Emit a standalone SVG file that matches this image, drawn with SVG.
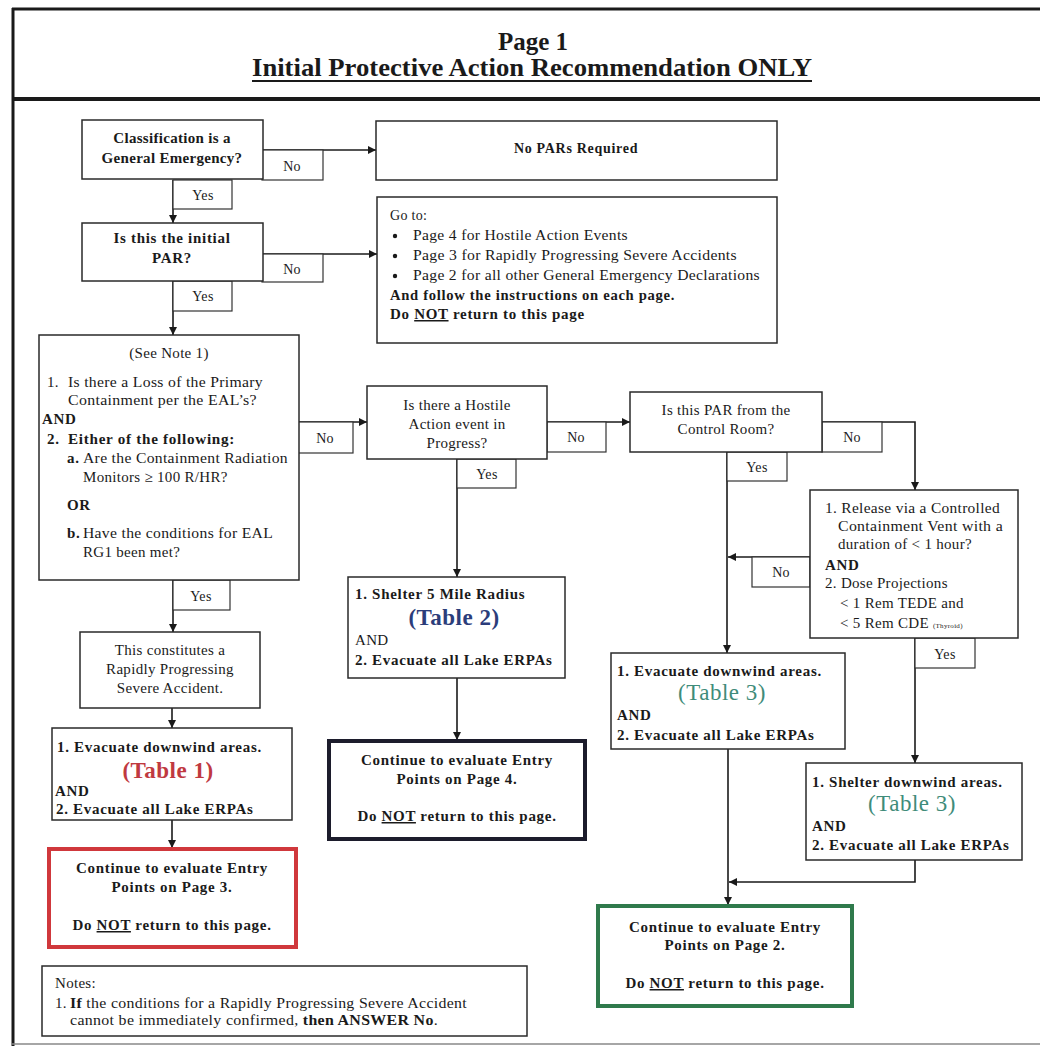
<svg xmlns="http://www.w3.org/2000/svg" width="1040" height="1046" viewBox="0 0 1040 1046">
<defs>
<style>
.t{font-family:"Liberation Serif","Times New Roman",serif;font-size:15px;fill:#1a1a1a;letter-spacing:0.3px}
.b{font-weight:bold;letter-spacing:0.7px}
.c{text-anchor:middle}
.box{fill:#fff;stroke:#2a2a2a;stroke-width:1.5}
.lbl{fill:#fff;stroke:#333;stroke-width:1.2}
.edge{fill:none;stroke:#1a1a1a;stroke-width:1.6}
.u{text-decoration:underline}
.t1{fill:#c0393f;font-size:23px;font-weight:bold;letter-spacing:0.5px}
.t2{fill:#2b3d7a;font-size:23px;font-weight:bold;letter-spacing:0.5px}
.t3{fill:#3f8c7a;font-size:23px;letter-spacing:0.5px}
</style>
<marker id="ah" viewBox="0 0 10 10" refX="10" refY="5" markerWidth="9" markerHeight="8" markerUnits="userSpaceOnUse" orient="auto">
<path d="M0,0 L10,5 L0,10 z" fill="#1a1a1a"/>
</marker>
</defs>
<rect x="0" y="0" width="1040" height="1046" fill="#fff"/>

<g id="frame">
<line x1="12" y1="9" x2="1040" y2="9" stroke="#1a1a1a" stroke-width="3"/>
<line x1="13" y1="8" x2="13" y2="1046" stroke="#1a1a1a" stroke-width="3"/>
<line x1="12" y1="99" x2="1040" y2="99" stroke="#1a1a1a" stroke-width="4"/>
<line x1="12" y1="1044" x2="1040" y2="1044" stroke="#888" stroke-width="1.5"/>
<text class="t b c" x="533" y="50" style="font-size:25px;letter-spacing:0">Page 1</text>
<text class="t b" x="252" y="76" style="font-size:25px;letter-spacing:0" textLength="560" lengthAdjust="spacingAndGlyphs">Initial Protective Action Recommendation ONLY</text>
<line x1="252" y1="81" x2="812" y2="81" stroke="#1a1a1a" stroke-width="2"/>
</g>

<g id="connectors">
<path class="edge" d="M262,150 H376" marker-end="url(#ah)"/>
<rect class="lbl" x="262" y="150" width="61" height="30"/>
<text class="t c" x="292" y="171" style="font-size:14px">No</text>

<path class="edge" d="M173,180 V223" marker-end="url(#ah)"/>
<rect class="lbl" x="173" y="180" width="59" height="29"/>
<text class="t c" x="203" y="200" style="font-size:14px">Yes</text>

<path class="edge" d="M262,254 H377" marker-end="url(#ah)"/>
<rect class="lbl" x="262" y="254" width="61" height="28"/>
<text class="t c" x="292" y="274" style="font-size:14px">No</text>

<path class="edge" d="M173,281 V335" marker-end="url(#ah)"/>
<rect class="lbl" x="173" y="281" width="59" height="30"/>
<text class="t c" x="203" y="301" style="font-size:14px">Yes</text>

<path class="edge" d="M298,422 H367" marker-end="url(#ah)"/>
<rect class="lbl" x="298" y="422" width="55" height="31"/>
<text class="t c" x="325" y="443" style="font-size:14px">No</text>

<path class="edge" d="M547,422 H630" marker-end="url(#ah)"/>
<rect class="lbl" x="547" y="422" width="59" height="30"/>
<text class="t c" x="576" y="442" style="font-size:14px">No</text>

<path class="edge" d="M822,422 H915 V490" marker-end="url(#ah)"/>
<rect class="lbl" x="822" y="422" width="60" height="30"/>
<text class="t c" x="852" y="442" style="font-size:14px">No</text>

<path class="edge" d="M457,459 V577" marker-end="url(#ah)"/>
<rect class="lbl" x="457" y="459" width="59" height="29"/>
<text class="t c" x="487" y="479" style="font-size:14px">Yes</text>

<path class="edge" d="M727,452 V653" marker-end="url(#ah)"/>
<rect class="lbl" x="727" y="452" width="60" height="29"/>
<text class="t c" x="757" y="472" style="font-size:14px">Yes</text>

<path class="edge" d="M810,557 H728" marker-end="url(#ah)"/>
<rect class="lbl" x="752" y="557" width="58" height="30"/>
<text class="t c" x="781" y="577" style="font-size:14px">No</text>

<path class="edge" d="M915,638 V763" marker-end="url(#ah)"/>
<rect class="lbl" x="915" y="638" width="60" height="30"/>
<text class="t c" x="945" y="659" style="font-size:14px">Yes</text>

<path class="edge" d="M173,580 V632" marker-end="url(#ah)"/>
<rect class="lbl" x="173" y="580" width="57" height="30"/>
<text class="t c" x="201" y="601" style="font-size:14px">Yes</text>

<path class="edge" d="M172,708 V728" marker-end="url(#ah)"/>
<path class="edge" d="M172,820 V848" marker-end="url(#ah)"/>
<path class="edge" d="M457,678 V740" marker-end="url(#ah)"/>
<path class="edge" d="M728,749 V905" marker-end="url(#ah)"/>
<path class="edge" d="M915,860 V882 H729" marker-end="url(#ah)"/>
</g>

<g id="n_classification">
<rect class="box" x="82" y="120" width="181" height="59"/>
<text class="t b c" x="172" y="143" style="letter-spacing:0.3px">Classification is a</text>
<text class="t b c" x="172" y="163" style="letter-spacing:0.3px">General Emergency?</text>
</g>

<g id="n_nopars">
<rect class="box" x="376" y="121" width="401" height="59"/>
<text class="t b c" x="576" y="153" style="font-size:14px">No PARs Required</text>
</g>

<g id="n_initialpar">
<rect class="box" x="82" y="223" width="181" height="58"/>
<text class="t b c" x="172" y="243">Is this the initial</text>
<text class="t b c" x="172" y="263">PAR?</text>
</g>

<g id="n_goto">
<rect class="box" x="377" y="197" width="400" height="146"/>
<text class="t" x="390" y="220" style="font-size:14px">Go to:</text>
<circle cx="395" cy="236" r="2.2" fill="#1a1a1a"/>
<circle cx="395" cy="256" r="2.2" fill="#1a1a1a"/>
<circle cx="395" cy="276" r="2.2" fill="#1a1a1a"/>
<text class="t" x="413" y="240" textLength="215" lengthAdjust="spacingAndGlyphs">Page 4 for Hostile Action Events</text>
<text class="t" x="413" y="260" textLength="324" lengthAdjust="spacingAndGlyphs">Page 3 for Rapidly Progressing Severe Accidents</text>
<text class="t" x="413" y="280" textLength="347" lengthAdjust="spacingAndGlyphs">Page 2 for all other General Emergency Declarations</text>
<text class="t b" x="390" y="300" textLength="285" lengthAdjust="spacingAndGlyphs">And follow the instructions on each page.</text>
<text class="t b" x="390" y="319">Do <tspan class="u">NOT</tspan> return to this page</text>
</g>

<g id="n_seenote">
<rect class="box" x="39" y="335" width="260" height="245"/>
<text class="t c" x="169" y="358">(See Note 1)</text>
<text class="t" x="47" y="387">1.</text>
<text class="t" x="68" y="387" textLength="195" lengthAdjust="spacingAndGlyphs">Is there a Loss of the Primary</text>
<text class="t" x="68" y="405" textLength="189" lengthAdjust="spacingAndGlyphs">Containment per the EAL’s?</text>
<text class="t b" x="42" y="424">AND</text>
<text class="t b" x="47" y="444">2.</text>
<text class="t b" x="68" y="444" textLength="167" lengthAdjust="spacingAndGlyphs">Either of the following:</text>
<text class="t b" x="67" y="463">a.</text>
<text class="t" x="83" y="463" textLength="205" lengthAdjust="spacingAndGlyphs">Are the Containment Radiation</text>
<text class="t" x="83" y="482">Monitors ≥ 100 R/HR?</text>
<text class="t b" x="67" y="510">OR</text>
<text class="t b" x="67" y="538">b.</text>
<text class="t" x="83" y="538" textLength="190" lengthAdjust="spacingAndGlyphs">Have the conditions for EAL</text>
<text class="t" x="83" y="557">RG1 been met?</text>
</g>

<g id="n_hostile">
<rect class="box" x="367" y="386" width="180" height="73"/>
<text class="t c" x="457" y="410">Is there a Hostile</text>
<text class="t c" x="457" y="429">Action event in</text>
<text class="t c" x="457" y="448">Progress?</text>
</g>

<g id="n_controlroom">
<rect class="box" x="630" y="392" width="192" height="60"/>
<text class="t c" x="726" y="415">Is this PAR from the</text>
<text class="t c" x="726" y="434">Control Room?</text>
</g>

<g id="n_release">
<rect class="box" x="810" y="490" width="208" height="148"/>
<text class="t" x="825" y="513" textLength="175" lengthAdjust="spacingAndGlyphs">1. Release via a Controlled</text>
<text class="t" x="838" y="531" textLength="165" lengthAdjust="spacingAndGlyphs">Containment Vent with a</text>
<text class="t" x="838" y="549">duration of &lt; 1 hour?</text>
<text class="t b" x="825" y="570">AND</text>
<text class="t" x="825" y="588">2. Dose Projections</text>
<text class="t" x="840" y="608">&lt; 1 Rem TEDE and</text>
<text class="t" x="840" y="628">&lt; 5 Rem CDE <tspan style="font-size:7px">(Thyroid)</tspan></text>
</g>

<g id="n_shelter5">
<rect class="box" x="348" y="577" width="217" height="101"/>
<text class="t b" x="355" y="599">1. Shelter 5 Mile Radius</text>
<text class="t t2 c" x="454" y="625">(Table 2)</text>
<text class="t" x="355" y="645">AND</text>
<text class="t b" x="355" y="665">2. Evacuate all Lake ERPAs</text>
</g>

<g id="n_page4">
<rect x="329" y="741" width="256" height="98" fill="#fff" stroke="#1c1c2c" stroke-width="4"/>
<text class="t b c" x="457" y="765">Continue to evaluate Entry</text>
<text class="t b c" x="457" y="784">Points on Page 4.</text>
<text class="t b c" x="457" y="821">Do <tspan class="u">NOT</tspan> return to this page.</text>
</g>

<g id="n_rpsa">
<rect class="box" x="80" y="632" width="180" height="76"/>
<text class="t c" x="170" y="655">This constitutes a</text>
<text class="t c" x="170" y="674">Rapidly Progressing</text>
<text class="t c" x="170" y="693">Severe Accident.</text>
</g>

<g id="n_evac1">
<rect class="box" x="52" y="728" width="240" height="92"/>
<text class="t b" x="57" y="752">1. Evacuate downwind areas.</text>
<text class="t t1 c" x="168" y="778">(Table 1)</text>
<text class="t b" x="55" y="796">AND</text>
<text class="t b" x="56" y="814">2. Evacuate all Lake ERPAs</text>
</g>

<g id="n_page3">
<rect x="49" y="849" width="247" height="98" fill="#fff" stroke="#d0383c" stroke-width="4"/>
<text class="t b c" x="172" y="873">Continue to evaluate Entry</text>
<text class="t b c" x="172" y="892">Points on Page 3.</text>
<text class="t b c" x="172" y="930">Do <tspan class="u">NOT</tspan> return to this page.</text>
</g>

<g id="n_evac3">
<rect class="box" x="611" y="653" width="234" height="96"/>
<text class="t b" x="617" y="676">1. Evacuate downwind areas.</text>
<text class="t t3 c" x="722" y="700">(Table 3)</text>
<text class="t b" x="617" y="720">AND</text>
<text class="t b" x="617" y="740">2. Evacuate all Lake ERPAs</text>
</g>

<g id="n_shelterdw">
<rect class="box" x="806" y="763" width="216" height="97"/>
<text class="t b" x="812" y="787">1. Shelter downwind areas.</text>
<text class="t t3 c" x="912" y="811">(Table 3)</text>
<text class="t b" x="812" y="831">AND</text>
<text class="t b" x="812" y="850">2. Evacuate all Lake ERPAs</text>
</g>

<g id="n_page2">
<rect x="598" y="906" width="254" height="100" fill="#fff" stroke="#2f7a4c" stroke-width="4"/>
<text class="t b c" x="725" y="932">Continue to evaluate Entry</text>
<text class="t b c" x="725" y="950">Points on Page 2.</text>
<text class="t b c" x="725" y="988">Do <tspan class="u">NOT</tspan> return to this page.</text>
</g>

<g id="n_notes">
<rect class="box" x="42" y="966" width="485" height="70"/>
<text class="t" x="55" y="988">Notes:</text>
<text class="t" x="55" y="1008">1.</text>
<text class="t" x="70" y="1008" textLength="397" lengthAdjust="spacingAndGlyphs"><tspan class="b" style="letter-spacing:0.3px">If</tspan> the conditions for a Rapidly Progressing Severe Accident</text>
<text class="t" x="70" y="1025" textLength="368" lengthAdjust="spacingAndGlyphs">cannot be immediately confirmed, <tspan class="b" style="letter-spacing:0.3px">then ANSWER No</tspan>.</text>
</g>
</svg>
